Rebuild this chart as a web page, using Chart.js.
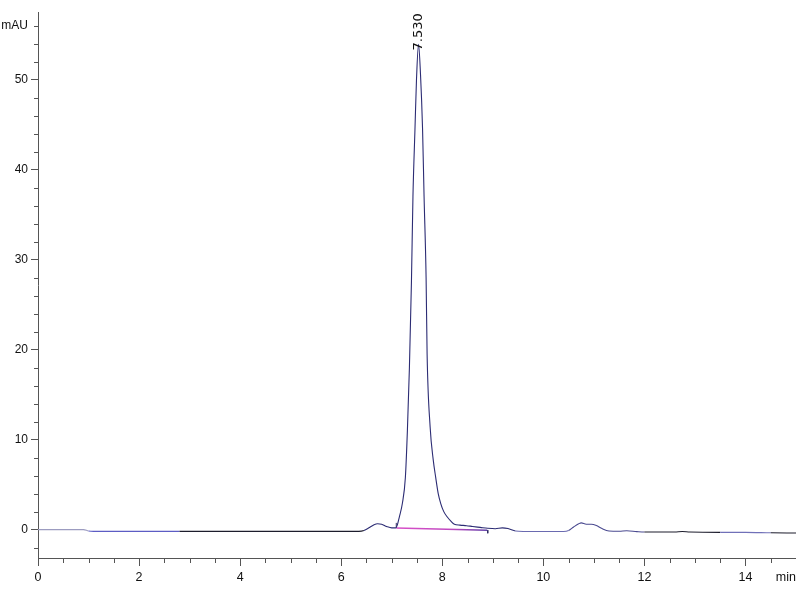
<!DOCTYPE html>
<html>
<head>
<meta charset="utf-8">
<script src="https://cdn.jsdelivr.net/npm/chart.js@4/dist/chart.umd.min.js"></script>
<style>
  html, body { margin: 0; padding: 0; background: #ffffff; }
  #wrap { width: 800px; height: 600px; }
</style>
</head>
<body>
<div id="wrap"><canvas id="c" width="800" height="600"></canvas></div>
<script>
// Retention time (min) and absorbance (mAU)
const times = [0, 0.9, 1.0, 1.1, 2.8, 4.0, 5.5, 6.35, 6.45, 6.55, 6.65, 6.72, 6.8, 6.9, 7.0, 7.08,
  7.11, 7.15, 7.21, 7.27, 7.31, 7.35, 7.39, 7.42, 7.46, 7.49, 7.53, 7.57, 7.61, 7.64, 7.68, 7.70,
  7.76, 7.82, 7.87, 7.92, 7.97, 8.03, 8.10, 8.17, 8.24, 8.35, 8.48, 8.6, 8.75, 8.9, 9.05, 9.19,
  9.3, 9.45, 9.6, 10.4, 10.5, 10.6, 10.7, 10.75, 10.85, 10.95, 11.05, 11.15, 11.3, 11.5, 11.65,
  11.85, 12.0, 12.6, 12.75, 12.9, 13.5, 14.0, 14.5, 15.0];
const signal = [0, 0, -0.15, -0.19, -0.19, -0.19, -0.19, -0.19, -0.1, 0.2, 0.55, 0.66, 0.6, 0.35, 0.2, 0.2,
  0.5, 1.4, 2.9, 5.8, 11.0, 18.0, 27.5, 37.0, 44.5, 50.0, 53.9, 50.5, 44.5, 37.0, 28.0, 19.5,
  11.4, 7.8, 5.8, 4.0, 2.9, 2.0, 1.4, 0.95, 0.6, 0.5, 0.44, 0.35, 0.25, 0.15, 0.1, 0.2,
  0.12, -0.15, -0.2, -0.2, -0.1, 0.3, 0.65, 0.75, 0.6, 0.6, 0.45, 0.15, -0.15, -0.18, -0.12,
  -0.22, -0.27, -0.27, -0.2, -0.27, -0.3, -0.3, -0.35, -0.38];

// Integration baseline under the main peak (start / end)
const baseTimes = [7.09, 8.89];
const baseValues = [0.19, -0.07];
// Integration start/end markers (small vertical ticks)
const startMarkTimes = [7.09, 7.09];
const startMarkValues = [0.25, 0.75];
const endMarkTimes = [8.9, 8.9];
const endMarkValues = [-0.05, -0.4];

// Peak annotation
const peakTimes = [7.53];
const peakApex = [53.9];
const peakLabels = ['7.530'];

// Axis ticks
const xTickValues = [0,0.5,1,1.5,2,2.5,3,3.5,4,4.5,5,5.5,6,6.5,7,7.5,8,8.5,9,9.5,10,10.5,11,11.5,12,12.5,13,13.5,14,14.5];
const xUnitLabel = 'min';
const xUnitPos = 14.8;
const yTickValues = [-2,0,2,4,6,8,10,12,14,16,18,20,22,24,26,28,30,32,34,36,38,40,42,44,46,48,50,52,54,56];
const yUnitLabel = 'mAU';
const yUnitPos = 56;

const FONT = "'Liberation Sans', Arial, sans-serif";
const AXIS = '#555555';

function isXMajor(v) { return v % 2 === 0; }
function isYMajor(v) { return v % 10 === 0; }

// trace colour by retention-time region (mimics the mixed rendering of the original)
function traceColor(t) {
  if (t < 1.0) return '#9c9cc0';
  if (t < 2.8) return '#5c5cc4';
  if (t < 5.5) return '#1c1c2c';
  if (t < 5.75) return '#8080b0';
  if (t < 6.5) return '#1c1c2c';
  if (t < 9.4) return '#2c2c74';
  if (t < 10.5) return '#6a6ab0';
  if (t < 12.0) return '#4a4a90';
  if (t < 13.5) return '#1c1c2c';
  if (t < 14.6) return '#7070b8';
  return '#1c1c2c';
}

const minorTicks = {
  id: 'minorTicks',
  afterDraw(chart) {
    const ctx = chart.ctx, xs = chart.scales.x, ys = chart.scales.y;
    ctx.save();
    ctx.strokeStyle = AXIS;
    ctx.lineWidth = 1;
    ctx.beginPath();
    xTickValues.forEach(v => {
      if (isXMajor(v)) return;
      const px = Math.round(xs.getPixelForValue(v)) + 0.5;
      ctx.moveTo(px, xs.top);
      ctx.lineTo(px, xs.top + 5);
    });
    yTickValues.forEach(v => {
      if (isYMajor(v)) return;
      const py = Math.round(ys.getPixelForValue(v)) + 0.5;
      ctx.moveTo(ys.right - 4, py);
      ctx.lineTo(ys.right, py);
    });
    ctx.stroke();
    ctx.restore();
  }
};

const peakLabelPlugin = {
  id: 'peakLabel',
  afterDatasetsDraw(chart) {
    const ctx = chart.ctx, xs = chart.scales.x, ys = chart.scales.y;
    ctx.save();
    ctx.fillStyle = '#111111';
    ctx.font = "13px 'DejaVu Sans', sans-serif";
    ctx.textAlign = 'left';
    ctx.textBaseline = 'middle';
    peakTimes.forEach((t, i) => {
      const px = xs.getPixelForValue(t);
      const py = ys.getPixelForValue(peakApex[i]);
      ctx.save();
      ctx.translate(px, py + 6);
      ctx.rotate(-Math.PI / 2);
      ctx.fillText(peakLabels[i], 0, 0);
      ctx.restore();
    });
    ctx.restore();
  }
};

const toXY = (xs, ys) => xs.map((t, i) => ({ x: t, y: ys[i] }));

function baselineGradient(context) {
  const chart = context.chart;
  const area = chart.chartArea;
  if (!area) return '#d048c8';
  const xs = chart.scales.x;
  const g = chart.ctx.createLinearGradient(xs.getPixelForValue(baseTimes[0]), 0, xs.getPixelForValue(baseTimes[1]), 0);
  g.addColorStop(0, '#d850c8');
  g.addColorStop(0.6, '#c048c0');
  g.addColorStop(1, '#6040a8');
  return g;
}

new Chart(document.getElementById('c'), {
  type: 'line',
  data: {
    datasets: [
      {
        label: 'baseline',
        data: toXY(baseTimes, baseValues),
        borderColor: baselineGradient,
        borderWidth: 1.6,
        pointRadius: 0,
        tension: 0,
        order: 2
      },
      {
        label: 'start',
        data: toXY(startMarkTimes, startMarkValues),
        borderColor: '#303060',
        borderWidth: 1,
        pointRadius: 0,
        order: 3
      },
      {
        label: 'end',
        data: toXY(endMarkTimes, endMarkValues),
        borderColor: '#303060',
        borderWidth: 1,
        pointRadius: 0,
        order: 3
      },
      {
        label: 'signal',
        data: toXY(times, signal),
        borderColor: '#2c2c74',
        segment: { borderColor: (c) => traceColor((c.p0.parsed.x + c.p1.parsed.x) / 2) },
        borderWidth: 1.1,
        pointRadius: 0,
        cubicInterpolationMode: 'monotone',
        order: 1
      }
    ]
  },
  options: {
    responsive: false,
    animation: false,
    devicePixelRatio: 1,
    layout: { padding: { top: 12, right: 3, left: 0, bottom: 0 } },
    plugins: { legend: { display: false }, tooltip: { enabled: false }, title: { display: false } },
    scales: {
      x: {
        type: 'linear',
        min: 0,
        max: 15,
        afterBuildTicks: (axis) => {
          axis.ticks = xTickValues.map(v => ({ value: v })).concat([{ value: xUnitPos }]);
        },
        afterFit: (axis) => { axis.height = 42; },
        border: { display: true, color: AXIS, width: 1 },
        grid: {
          display: true,
          drawOnChartArea: false,
          drawTicks: true,
          tickLength: 8,
          tickColor: (c) => (c.tick && c.tick.value !== xUnitPos && isXMajor(c.tick.value)) ? AXIS : 'rgba(0,0,0,0)'
        },
        ticks: {
          autoSkip: false,
          maxRotation: 0,
          padding: 4,
          color: '#111111',
          font: { family: FONT, size: 12.5 },
          callback: (v) => v === xUnitPos ? xUnitLabel : (isXMajor(v) ? String(v) : '')
        }
      },
      y: {
        type: 'linear',
        min: -3.15,
        max: 57.5,
        afterBuildTicks: (axis) => {
          axis.ticks = yTickValues.map(v => ({ value: v }));
        },
        afterFit: (axis) => { axis.width = 38; },
        border: { display: true, color: AXIS, width: 1 },
        grid: {
          display: true,
          drawOnChartArea: false,
          drawTicks: true,
          tickLength: 7,
          tickColor: (c) => (c.tick && isYMajor(c.tick.value)) ? AXIS : 'rgba(0,0,0,0)'
        },
        ticks: {
          autoSkip: false,
          padding: 3,
          color: '#111111',
          font: { family: FONT, size: 12 },
          callback: (v) => v === yUnitPos ? yUnitLabel : (isYMajor(v) ? String(v) : '')
        }
      }
    }
  },
  plugins: [minorTicks, peakLabelPlugin]
});
</script>
</body>
</html>
